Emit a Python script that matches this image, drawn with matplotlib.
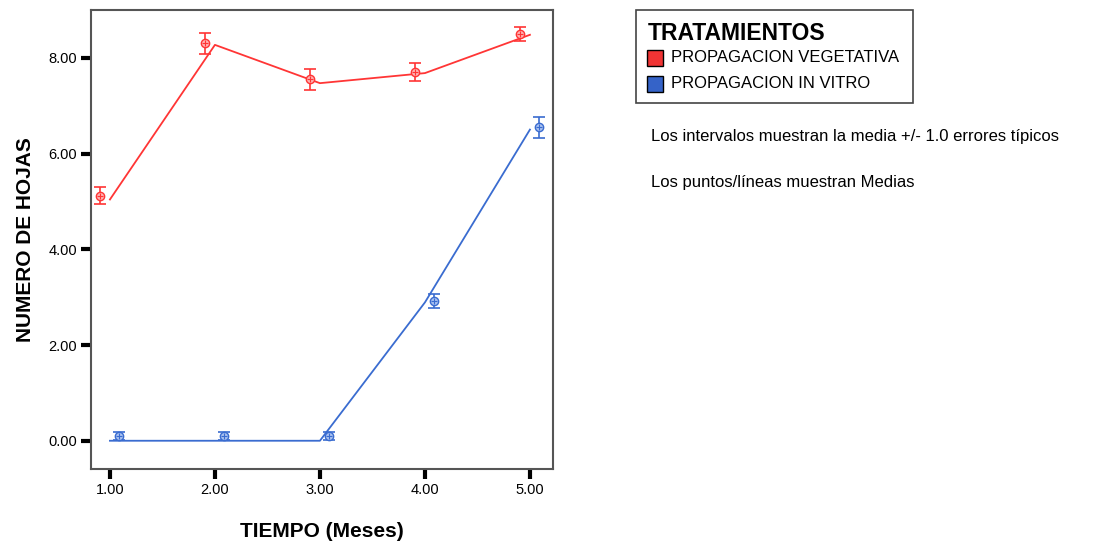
import numpy as np
import matplotlib
matplotlib.use('Agg')
import matplotlib.pyplot as plt
from matplotlib.patches import Rectangle

plt.rcParams['font.family'] = ['Liberation Sans', 'DejaVu Sans']

# datos
tiempo = [1, 2, 3, 4, 5]
tick_labels = ['1.00', '2.00', '3.00', '4.00', '5.00']
y_ticks = [0, 2, 4, 6, 8]
y_labels = ['0.00', '2.00', '4.00', '6.00', '8.00']

# lineas (medias)
linea_veg = [5.04, 8.27, 7.47, 7.68, 8.48]
linea_vitro = [0.0, 0.0, 0.0, 2.89, 6.5]

# puntos con error tipico
media_veg = [5.12, 8.3, 7.55, 7.7, 8.5]
se_veg = [0.18, 0.22, 0.22, 0.19, 0.15]
media_vitro = [0.1, 0.1, 0.1, 2.92, 6.55]
se_vitro = [0.08, 0.08, 0.08, 0.14, 0.22]

rojo = '#ff3535'
azul = '#3a6cd0'

fig = plt.figure(figsize=(11.17, 5.42), dpi=100)
ax = fig.add_axes([0.0815, 0.1347, 0.4136, 0.847])

ax.plot(tiempo, linea_veg, color=rojo, lw=1.3)
ax.plot(tiempo, linea_vitro, color=azul, lw=1.3)

off = 0.09
x_veg = np.array(tiempo) - off
x_vitro = np.array(tiempo) + off
for xs, m, s, c, fc in [(x_veg, media_veg, se_veg, rojo, '#ffb0b0'),
                        (x_vitro, media_vitro, se_vitro, azul, '#a8c0f0')]:
    ax.errorbar(xs, m, yerr=s, fmt='none', ecolor=c, elinewidth=1.2,
                capsize=4, capthick=1.2)
    ax.plot(xs, m, 'o', ms=6, mfc=fc, mec=c, mew=1.0, ls='none')
    ax.plot(xs, m, '+', ms=5, color=c, mew=0.8, ls='none')

ax.set_xlim(0.82, 5.22)
ax.set_ylim(-0.59, 9.0)
ax.set_xticks(tiempo)
ax.set_xticklabels(tick_labels, fontsize=10.5)
ax.set_yticks(y_ticks)
ax.set_yticklabels(y_labels, fontsize=10.5)
ax.tick_params(direction='out', length=7, width=3, color='black', pad=3)
for sp in ax.spines.values():
    sp.set_color('#555555')
    sp.set_linewidth(1.5)

ax.set_xlabel('TIEMPO (Meses)', fontsize=15, fontweight='bold', labelpad=18)
ax.set_ylabel('NUMERO DE HOJAS', fontsize=15, fontweight='bold', labelpad=10)

# leyenda
W, H = 1117, 542
def fx(px):
    return px / W
def fy(py):
    return 1 - py / H

fig.patches.append(Rectangle((fx(636), fy(103)), fx(913) - fx(636), fy(10) - fy(103),
                             transform=fig.transFigure, fill=False, ec='#444444', lw=1.2))
fig.text(fx(648), fy(34), 'TRATAMIENTOS', fontsize=16.5, fontweight='bold', va='center')
leyenda = [('PROPAGACION VEGETATIVA', '#f03434', 58), ('PROPAGACION IN VITRO', '#3563c8', 84)]
for txt, c, yc in leyenda:
    fig.patches.append(Rectangle((fx(647), fy(yc + 8)), fx(16), 16 / H,
                                 transform=fig.transFigure, fc=c, ec='black', lw=1.0))
    fig.text(fx(671), fy(yc), txt, fontsize=12, va='center')

fig.text(fx(651), fy(137), 'Los intervalos muestran la media +/- 1.0 errores típicos',
         fontsize=12, va='center')
fig.text(fx(651), fy(183), 'Los puntos/líneas muestran Medias', fontsize=12, va='center')

fig.savefig('out.png', dpi=100)
